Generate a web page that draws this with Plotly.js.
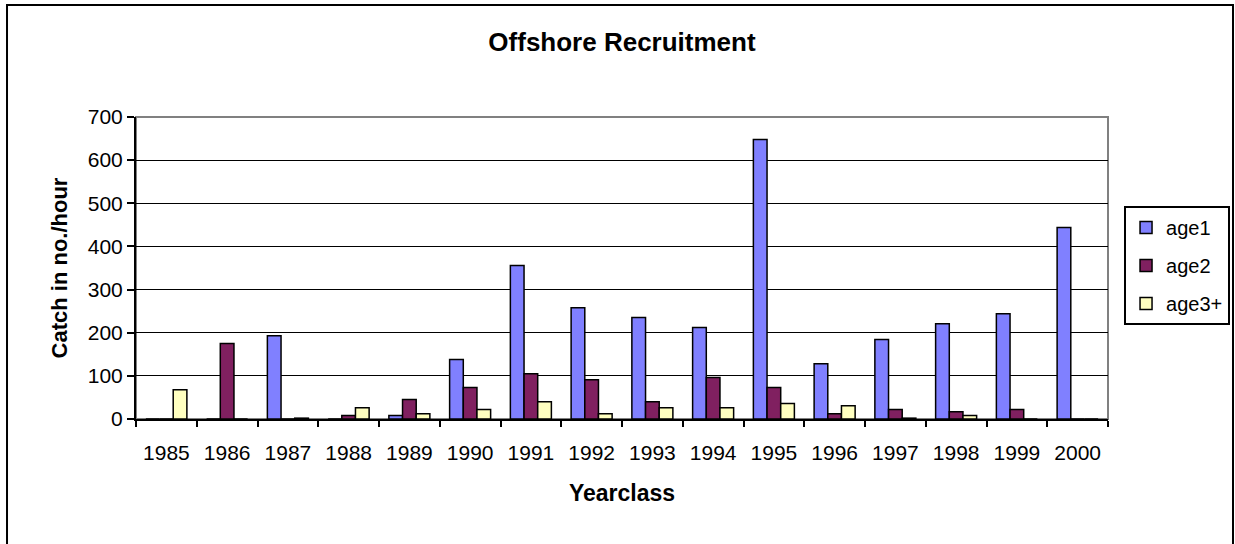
<!DOCTYPE html>
<html>
<head>
<meta charset="utf-8">
<script src="https://cdn.plot.ly/plotly-3.0.1.min.js"></script>
<style>html,body{margin:0;padding:0;background:#fff;}#chart{width:1235px;height:544px;}</style>
</head>
<body>
<div id="chart"></div>
<script>
const years = ["1985","1986","1987","1988","1989","1990","1991","1992","1993","1994","1995","1996","1997","1998","1999","2000"];
const age1 = [0, 0, 193, 0, 8, 138, 356, 258, 235, 212, 648, 128, 184, 221, 244, 444];
const age2 = [0, 175, 0, 8, 45, 73, 105, 91, 40, 96, 73, 12, 22, 17, 22, 0];
const age3 = [68, 0, 2, 26, 12, 22, 40, 12, 26, 26, 36, 31, 2, 8, 0, 0];
const seriesNames = ["age1", "age2", "age3+"];
const seriesColors = ["#8080FF", "#802060", "#FFFFC0"];
const yTicks = [0, 100, 200, 300, 400, 500, 600, 700];

const FONT = "Liberation Sans, Arial, sans-serif";
const allData = [age1, age2, age3];
const traces = allData.map((vals, i) => ({
  type: "bar",
  x: years,
  y: vals,
  name: seriesNames[i],
  legendgroup: "g" + i,
  marker: {color: seriesColors[i], line: {color: "#000", width: 1.5}},
  hoverinfo: "x+y+name"
}));

const layout = {
  width: 1235, height: 544,
  margin: {l: 136, r: 127, t: 117, b: 125, pad: 0, autoexpand: false},
  paper_bgcolor: "#fff", plot_bgcolor: "#fff",
  font: {family: FONT, size: 20, color: "#000"},
  barmode: "group", bargap: 0.325, bargroupgap: 0,
  showlegend: true,
  title: {text: "<b>Offshore Recruitment</b>", font: {family: FONT, size: 26, color: "#000"},
          x: 0.5, xref: "paper", xanchor: "center", y: 0.9228, yref: "container", yanchor: "middle"},
  xaxis: {
    type: "category", tickson: "boundaries", ticks: "outside", ticklen: 6, tickwidth: 2, tickcolor: "#000",
    showline: true, linecolor: "#000", linewidth: 2, showgrid: false, zeroline: false,
    tickfont: {family: FONT, size: 21, color: "#000"}, ticklabelstandoff: 14,
    title: {text: "<b>Yearclass</b>", font: {family: FONT, size: 23, color: "#000"}, standoff: 22}
  },
  yaxis: {
    range: [0, 700], tickvals: yTicks, ticks: "outside", ticklen: 7, tickwidth: 2, tickcolor: "#000",
    showline: true, linecolor: "#000", linewidth: 2, showgrid: true, gridcolor: "#000", gridwidth: 1,
    zeroline: false, tickfont: {family: FONT, size: 21, color: "#000"},
    title: {text: "<b>Catch in no./hour</b>", font: {family: FONT, size: 22, color: "#000"}, standoff: 14}
  },
  legend: {
    x: 1.0165, y: 0.7053, xanchor: "left", yanchor: "top",
    bordercolor: "#000", borderwidth: 2, bgcolor: "#fff",
    font: {family: FONT, size: 20, color: "#000"},
    traceorder: "grouped", tracegroupgap: 9, itemwidth: 30
  },
  shapes: [
    {type: "rect", xref: "paper", yref: "paper", x0: 0, x1: 1, y0: 0, y1: 1,
     line: {color: "#808080", width: 2}, layer: "below"},
    {type: "rect", xref: "paper", yref: "paper", x0: -0.1327, x1: 1.1286, y0: -0.47, y1: 1.3709,
     line: {color: "#000", width: 2}, layer: "below"}
  ]
};

Plotly.newPlot("chart", traces, layout, {displayModeBar: false, staticPlot: true});
</script>
</body>
</html>
